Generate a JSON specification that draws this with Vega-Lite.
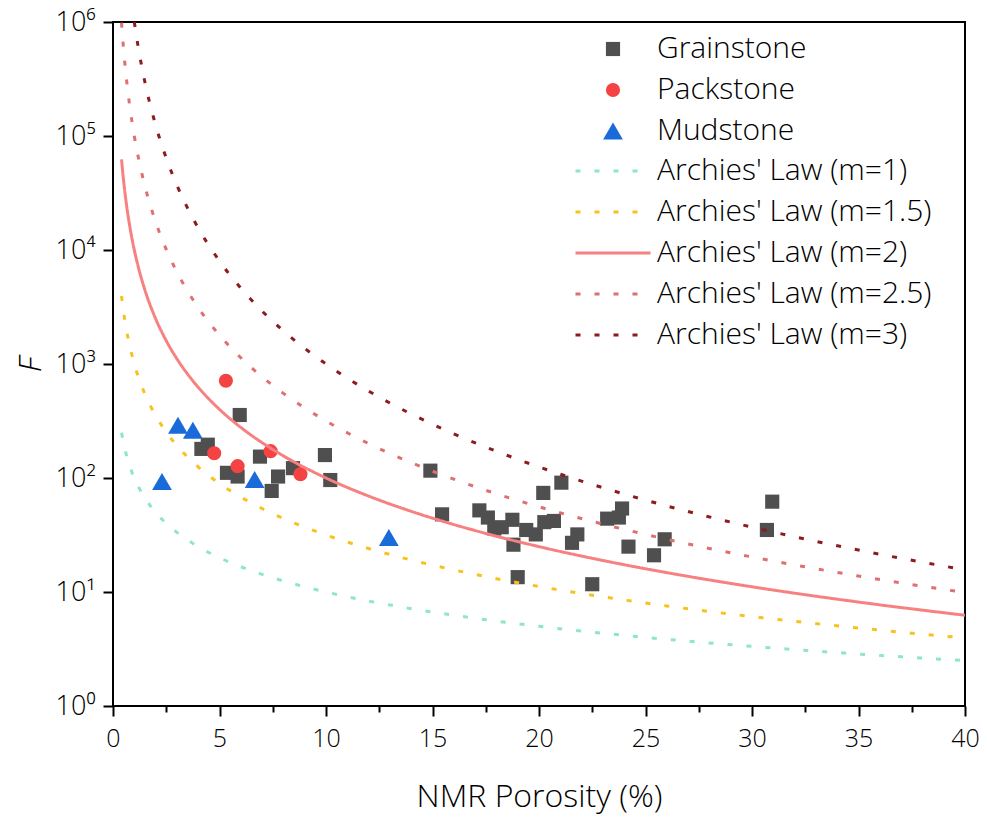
{
  "$schema": "https://vega.github.io/schema/vega-lite/v6.json",
  "width": 852,
  "height": 684,
  "autosize": {"type": "none"},
  "padding": {"left": 113, "top": 22, "right": 22, "bottom": 113},
  "background": "white",
  "config": {
    "font": "Open Sans",
    "view": {"stroke": "black", "strokeWidth": 2},
    "axis": {
      "domain": false, "grid": false, "tickColor": "black", "tickWidth": 2,
      "labelColor": "black", "titleColor": "black",
      "labelFont": "Open Sans, Noto Sans", "titleFont": "Open Sans",
      "labelFontSize": 25, "titleFontSize": 32, "titleFontWeight": 300, "labelFontWeight": 300
    },
    "legend": {
      "labelFont": "Open Sans", "labelFontSize": 30, "labelFontWeight": 300, "labelColor": "black",
      "padding": 0, "labelLimit": 0
    }
  },
  "datasets": {
    "pts": [
      {"x": 4.15, "F": 180, "type": "Grainstone"},
      {"x": 4.45, "F": 196, "type": "Grainstone"},
      {"x": 5.35, "F": 111, "type": "Grainstone"},
      {"x": 5.85, "F": 103, "type": "Grainstone"},
      {"x": 5.95, "F": 357, "type": "Grainstone"},
      {"x": 6.9, "F": 154, "type": "Grainstone"},
      {"x": 7.45, "F": 77, "type": "Grainstone"},
      {"x": 7.75, "F": 103, "type": "Grainstone"},
      {"x": 8.45, "F": 122, "type": "Grainstone"},
      {"x": 9.95, "F": 159, "type": "Grainstone"},
      {"x": 10.2, "F": 96, "type": "Grainstone"},
      {"x": 14.9, "F": 116, "type": "Grainstone"},
      {"x": 15.45, "F": 48, "type": "Grainstone"},
      {"x": 17.2, "F": 52, "type": "Grainstone"},
      {"x": 17.6, "F": 45, "type": "Grainstone"},
      {"x": 17.9, "F": 36, "type": "Grainstone"},
      {"x": 18.25, "F": 37, "type": "Grainstone"},
      {"x": 18.75, "F": 43, "type": "Grainstone"},
      {"x": 18.8, "F": 26, "type": "Grainstone"},
      {"x": 19.0, "F": 13.5, "type": "Grainstone"},
      {"x": 19.4, "F": 35, "type": "Grainstone"},
      {"x": 19.85, "F": 32, "type": "Grainstone"},
      {"x": 20.25, "F": 41, "type": "Grainstone"},
      {"x": 20.2, "F": 74, "type": "Grainstone"},
      {"x": 20.7, "F": 42, "type": "Grainstone"},
      {"x": 21.05, "F": 91, "type": "Grainstone"},
      {"x": 21.55, "F": 27, "type": "Grainstone"},
      {"x": 21.8, "F": 32, "type": "Grainstone"},
      {"x": 22.5, "F": 11.7, "type": "Grainstone"},
      {"x": 23.2, "F": 44, "type": "Grainstone"},
      {"x": 23.75, "F": 45, "type": "Grainstone"},
      {"x": 23.9, "F": 54, "type": "Grainstone"},
      {"x": 24.2, "F": 25, "type": "Grainstone"},
      {"x": 25.4, "F": 21, "type": "Grainstone"},
      {"x": 25.9, "F": 29, "type": "Grainstone"},
      {"x": 30.7, "F": 35, "type": "Grainstone"},
      {"x": 30.95, "F": 62, "type": "Grainstone"},
      {"x": 4.75, "F": 165, "type": "Packstone"},
      {"x": 5.3, "F": 713, "type": "Packstone"},
      {"x": 5.85, "F": 127, "type": "Packstone"},
      {"x": 7.4, "F": 172, "type": "Packstone"},
      {"x": 8.8, "F": 108, "type": "Packstone"},
      {"x": 2.3, "F": 93, "type": "Mudstone"},
      {"x": 3.05, "F": 290, "type": "Mudstone"},
      {"x": 3.75, "F": 262, "type": "Mudstone"},
      {"x": 6.65, "F": 97, "type": "Mudstone"},
      {"x": 12.95, "F": 30, "type": "Mudstone"}
    ],
    "curves": [
      {"law": "Archies' Law (m=1)", "x": 0.4, "F": 250},
      {"law": "Archies' Law (m=1)", "x": 0.5, "F": 200},
      {"law": "Archies' Law (m=1)", "x": 0.6, "F": 166.7},
      {"law": "Archies' Law (m=1)", "x": 0.7, "F": 142.9},
      {"law": "Archies' Law (m=1)", "x": 0.8, "F": 125},
      {"law": "Archies' Law (m=1)", "x": 1, "F": 100},
      {"law": "Archies' Law (m=1)", "x": 1.2, "F": 83.33},
      {"law": "Archies' Law (m=1)", "x": 1.5, "F": 66.67},
      {"law": "Archies' Law (m=1)", "x": 2, "F": 50},
      {"law": "Archies' Law (m=1)", "x": 2.5, "F": 40},
      {"law": "Archies' Law (m=1)", "x": 3, "F": 33.33},
      {"law": "Archies' Law (m=1)", "x": 3.5, "F": 28.57},
      {"law": "Archies' Law (m=1)", "x": 4, "F": 25},
      {"law": "Archies' Law (m=1)", "x": 5, "F": 20},
      {"law": "Archies' Law (m=1)", "x": 6, "F": 16.67},
      {"law": "Archies' Law (m=1)", "x": 7, "F": 14.29},
      {"law": "Archies' Law (m=1)", "x": 8, "F": 12.5},
      {"law": "Archies' Law (m=1)", "x": 10, "F": 10},
      {"law": "Archies' Law (m=1)", "x": 12, "F": 8.333},
      {"law": "Archies' Law (m=1)", "x": 14, "F": 7.143},
      {"law": "Archies' Law (m=1)", "x": 16, "F": 6.25},
      {"law": "Archies' Law (m=1)", "x": 18, "F": 5.556},
      {"law": "Archies' Law (m=1)", "x": 20, "F": 5},
      {"law": "Archies' Law (m=1)", "x": 23, "F": 4.348},
      {"law": "Archies' Law (m=1)", "x": 26, "F": 3.846},
      {"law": "Archies' Law (m=1)", "x": 30, "F": 3.333},
      {"law": "Archies' Law (m=1)", "x": 35, "F": 2.857},
      {"law": "Archies' Law (m=1)", "x": 40, "F": 2.5},

      {"law": "Archies' Law (m=1.5)", "x": 0.4, "F": 3953},
      {"law": "Archies' Law (m=1.5)", "x": 0.5, "F": 2828},
      {"law": "Archies' Law (m=1.5)", "x": 0.6, "F": 2152},
      {"law": "Archies' Law (m=1.5)", "x": 0.7, "F": 1707},
      {"law": "Archies' Law (m=1.5)", "x": 0.8, "F": 1398},
      {"law": "Archies' Law (m=1.5)", "x": 1, "F": 1000},
      {"law": "Archies' Law (m=1.5)", "x": 1.2, "F": 760.7},
      {"law": "Archies' Law (m=1.5)", "x": 1.5, "F": 544.3},
      {"law": "Archies' Law (m=1.5)", "x": 2, "F": 353.6},
      {"law": "Archies' Law (m=1.5)", "x": 2.5, "F": 253.0},
      {"law": "Archies' Law (m=1.5)", "x": 3, "F": 192.5},
      {"law": "Archies' Law (m=1.5)", "x": 3.5, "F": 152.7},
      {"law": "Archies' Law (m=1.5)", "x": 4, "F": 125},
      {"law": "Archies' Law (m=1.5)", "x": 5, "F": 89.44},
      {"law": "Archies' Law (m=1.5)", "x": 6, "F": 68.04},
      {"law": "Archies' Law (m=1.5)", "x": 7, "F": 54.0},
      {"law": "Archies' Law (m=1.5)", "x": 8, "F": 44.19},
      {"law": "Archies' Law (m=1.5)", "x": 10, "F": 31.62},
      {"law": "Archies' Law (m=1.5)", "x": 12, "F": 24.06},
      {"law": "Archies' Law (m=1.5)", "x": 14, "F": 19.09},
      {"law": "Archies' Law (m=1.5)", "x": 16, "F": 15.63},
      {"law": "Archies' Law (m=1.5)", "x": 18, "F": 13.09},
      {"law": "Archies' Law (m=1.5)", "x": 20, "F": 11.18},
      {"law": "Archies' Law (m=1.5)", "x": 23, "F": 9.066},
      {"law": "Archies' Law (m=1.5)", "x": 26, "F": 7.543},
      {"law": "Archies' Law (m=1.5)", "x": 30, "F": 6.086},
      {"law": "Archies' Law (m=1.5)", "x": 35, "F": 4.829},
      {"law": "Archies' Law (m=1.5)", "x": 40, "F": 3.953},

      {"law": "Archies' Law (m=2)", "x": 0.4, "F": 62500},
      {"law": "Archies' Law (m=2)", "x": 0.5, "F": 40000},
      {"law": "Archies' Law (m=2)", "x": 0.6, "F": 27778},
      {"law": "Archies' Law (m=2)", "x": 0.7, "F": 20408},
      {"law": "Archies' Law (m=2)", "x": 0.8, "F": 15625},
      {"law": "Archies' Law (m=2)", "x": 1, "F": 10000},
      {"law": "Archies' Law (m=2)", "x": 1.2, "F": 6944},
      {"law": "Archies' Law (m=2)", "x": 1.5, "F": 4444},
      {"law": "Archies' Law (m=2)", "x": 2, "F": 2500},
      {"law": "Archies' Law (m=2)", "x": 2.5, "F": 1600},
      {"law": "Archies' Law (m=2)", "x": 3, "F": 1111},
      {"law": "Archies' Law (m=2)", "x": 3.5, "F": 816.3},
      {"law": "Archies' Law (m=2)", "x": 4, "F": 625},
      {"law": "Archies' Law (m=2)", "x": 5, "F": 400},
      {"law": "Archies' Law (m=2)", "x": 6, "F": 277.8},
      {"law": "Archies' Law (m=2)", "x": 7, "F": 204.1},
      {"law": "Archies' Law (m=2)", "x": 8, "F": 156.25},
      {"law": "Archies' Law (m=2)", "x": 10, "F": 100},
      {"law": "Archies' Law (m=2)", "x": 12, "F": 69.44},
      {"law": "Archies' Law (m=2)", "x": 14, "F": 51.02},
      {"law": "Archies' Law (m=2)", "x": 16, "F": 39.06},
      {"law": "Archies' Law (m=2)", "x": 18, "F": 30.86},
      {"law": "Archies' Law (m=2)", "x": 20, "F": 25},
      {"law": "Archies' Law (m=2)", "x": 23, "F": 18.90},
      {"law": "Archies' Law (m=2)", "x": 26, "F": 14.79},
      {"law": "Archies' Law (m=2)", "x": 30, "F": 11.11},
      {"law": "Archies' Law (m=2)", "x": 35, "F": 8.163},
      {"law": "Archies' Law (m=2)", "x": 40, "F": 6.25},

      {"law": "Archies' Law (m=2.5)", "x": 0.4, "F": 988200},
      {"law": "Archies' Law (m=2.5)", "x": 0.5, "F": 565700},
      {"law": "Archies' Law (m=2.5)", "x": 0.6, "F": 358600},
      {"law": "Archies' Law (m=2.5)", "x": 0.7, "F": 243900},
      {"law": "Archies' Law (m=2.5)", "x": 0.8, "F": 174700},
      {"law": "Archies' Law (m=2.5)", "x": 1, "F": 100000},
      {"law": "Archies' Law (m=2.5)", "x": 1.2, "F": 63390},
      {"law": "Archies' Law (m=2.5)", "x": 1.5, "F": 36290},
      {"law": "Archies' Law (m=2.5)", "x": 2, "F": 17680},
      {"law": "Archies' Law (m=2.5)", "x": 2.5, "F": 10120},
      {"law": "Archies' Law (m=2.5)", "x": 3, "F": 6415},
      {"law": "Archies' Law (m=2.5)", "x": 3.5, "F": 4363},
      {"law": "Archies' Law (m=2.5)", "x": 4, "F": 3125},
      {"law": "Archies' Law (m=2.5)", "x": 5, "F": 1789},
      {"law": "Archies' Law (m=2.5)", "x": 6, "F": 1134},
      {"law": "Archies' Law (m=2.5)", "x": 7, "F": 771.5},
      {"law": "Archies' Law (m=2.5)", "x": 8, "F": 552.4},
      {"law": "Archies' Law (m=2.5)", "x": 10, "F": 316.2},
      {"law": "Archies' Law (m=2.5)", "x": 12, "F": 200.5},
      {"law": "Archies' Law (m=2.5)", "x": 14, "F": 136.4},
      {"law": "Archies' Law (m=2.5)", "x": 16, "F": 97.66},
      {"law": "Archies' Law (m=2.5)", "x": 18, "F": 72.74},
      {"law": "Archies' Law (m=2.5)", "x": 20, "F": 55.9},
      {"law": "Archies' Law (m=2.5)", "x": 23, "F": 39.41},
      {"law": "Archies' Law (m=2.5)", "x": 26, "F": 29.0},
      {"law": "Archies' Law (m=2.5)", "x": 30, "F": 20.29},
      {"law": "Archies' Law (m=2.5)", "x": 35, "F": 13.80},
      {"law": "Archies' Law (m=2.5)", "x": 40, "F": 9.882},

      {"law": "Archies' Law (m=3)", "x": 1, "F": 1000000},
      {"law": "Archies' Law (m=3)", "x": 1.2, "F": 578700},
      {"law": "Archies' Law (m=3)", "x": 1.5, "F": 296300},
      {"law": "Archies' Law (m=3)", "x": 2, "F": 125000},
      {"law": "Archies' Law (m=3)", "x": 2.5, "F": 64000},
      {"law": "Archies' Law (m=3)", "x": 3, "F": 37037},
      {"law": "Archies' Law (m=3)", "x": 3.5, "F": 23324},
      {"law": "Archies' Law (m=3)", "x": 4, "F": 15625},
      {"law": "Archies' Law (m=3)", "x": 5, "F": 8000},
      {"law": "Archies' Law (m=3)", "x": 6, "F": 4630},
      {"law": "Archies' Law (m=3)", "x": 7, "F": 2915},
      {"law": "Archies' Law (m=3)", "x": 8, "F": 1953},
      {"law": "Archies' Law (m=3)", "x": 10, "F": 1000},
      {"law": "Archies' Law (m=3)", "x": 12, "F": 578.7},
      {"law": "Archies' Law (m=3)", "x": 14, "F": 364.4},
      {"law": "Archies' Law (m=3)", "x": 16, "F": 244.1},
      {"law": "Archies' Law (m=3)", "x": 18, "F": 171.5},
      {"law": "Archies' Law (m=3)", "x": 20, "F": 125},
      {"law": "Archies' Law (m=3)", "x": 23, "F": 82.19},
      {"law": "Archies' Law (m=3)", "x": 26, "F": 56.9},
      {"law": "Archies' Law (m=3)", "x": 30, "F": 37.04},
      {"law": "Archies' Law (m=3)", "x": 35, "F": 23.32},
      {"law": "Archies' Law (m=3)", "x": 40, "F": 15.63}
    ]
  },
  "layer": [
    {
      "data": {"name": "pts"},
      "mark": {"type": "point", "filled": true, "opacity": 1, "size": 200},
      "encoding": {
        "x": {
          "field": "x", "type": "quantitative",
          "scale": {"domain": [0, 40], "nice": false, "zero": false},
          "axis": {
            "title": "NMR Porosity (%)",
            "values": [0, 2.5, 5, 7.5, 10, 12.5, 15, 17.5, 20, 22.5, 25, 27.5, 30, 32.5, 35, 37.5, 40],
            "labelExpr": "datum.value % 5 == 0 ? datum.label : ''",
            "tickSize": {"condition": {"test": "datum.value % 5 == 0", "value": 10}, "value": 6},
            "labelFlush": false, "labelPadding": 10, "titlePadding": 30
          }
        },
        "y": {
          "field": "F", "type": "quantitative",
          "scale": {"type": "log", "domain": [1, 1000000], "nice": false},
          "axis": {
            "title": "F", "titleFontStyle": "italic",
            "values": [1, 10, 100, 1000, 10000, 100000, 1000000],
            "labelExpr": "'10' + ['⁰','¹','²','³','⁴','⁵','⁶'][round(log(datum.value)/LN10)]",
            "labelFontSize": 27,
            "tickSize": 10, "labelPadding": 8, "labelFlush": false, "titlePadding": 8
          }
        },
        "color": {
          "field": "type", "type": "nominal",
          "scale": {"domain": ["Grainstone", "Packstone", "Mudstone"], "range": ["#4f4f4f", "#f54242", "#1a6bd9"]},
          "legend": {"title": null, "orient": "none", "legendX": 485, "legendY": 12, "labelOffset": 29, "rowPadding": 11, "symbolSize": 200}
        },
        "shape": {
          "field": "type", "type": "nominal",
          "scale": {"domain": ["Grainstone", "Packstone", "Mudstone"], "range": ["square", "circle", "M0,-1.2L1.4,1.2L-1.4,1.2Z"]},
          "legend": {"title": null, "orient": "none", "legendX": 485, "legendY": 12, "labelOffset": 29, "rowPadding": 11, "symbolSize": 200}
        }
      }
    },
    {
      "data": {"name": "curves"},
      "mark": {"type": "line", "strokeWidth": 3, "interpolate": "monotone", "clip": true},
      "encoding": {
        "x": {"field": "x", "type": "quantitative"},
        "y": {"field": "F", "type": "quantitative"},
        "stroke": {
          "field": "law", "type": "nominal",
          "scale": {
            "domain": ["Archies' Law (m=1)", "Archies' Law (m=1.5)", "Archies' Law (m=2)", "Archies' Law (m=2.5)", "Archies' Law (m=3)"],
            "range": ["#8fe8bd", "#f7c21b", "#f78080", "#de7070", "#8c1c1c"]
          },
          "legend": {"title": null, "orient": "none", "legendX": 485, "legendY": 134, "symbolType": "M-3.75,0L3.75,0", "symbolSize": 400, "symbolStrokeWidth": 3, "labelOffset": 29, "rowPadding": 11}
        },
        "strokeDash": {
          "field": "law", "type": "nominal",
          "scale": {
            "domain": ["Archies' Law (m=1)", "Archies' Law (m=1.5)", "Archies' Law (m=2)", "Archies' Law (m=2.5)", "Archies' Law (m=3)"],
            "range": [[5, 14], [5, 14], [1, 0], [5, 14], [5, 14]]
          },
          "legend": {"title": null, "orient": "none", "legendX": 485, "legendY": 134, "symbolType": "M-3.75,0L3.75,0", "symbolSize": 400, "symbolStrokeWidth": 3, "labelOffset": 29, "rowPadding": 11}
        }
      }
    }
  ]
}
